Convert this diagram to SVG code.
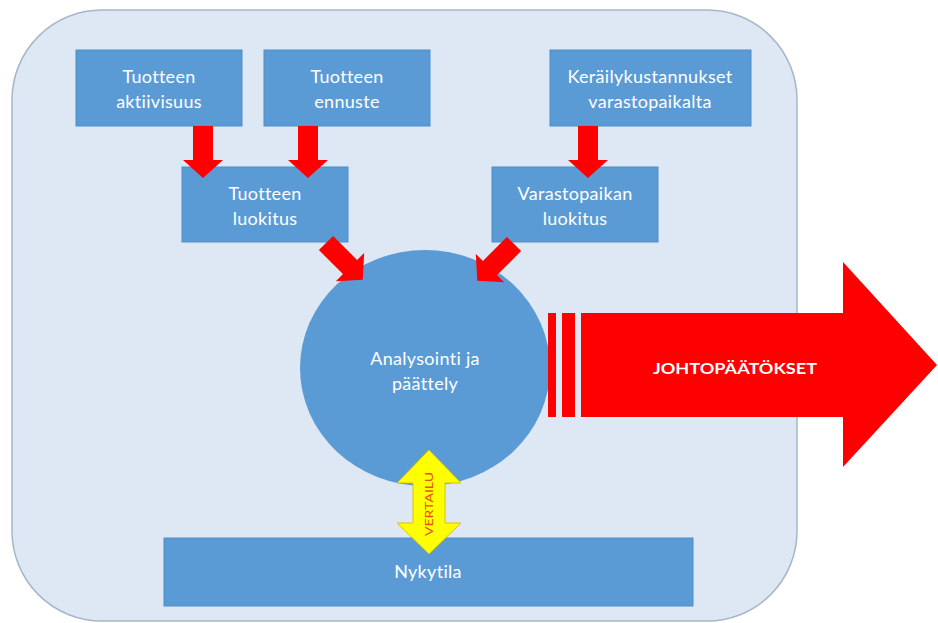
<svg xmlns="http://www.w3.org/2000/svg" xmlns:xlink="http://www.w3.org/1999/xlink" width="938" height="623" viewBox="0 0 938 623">
  <style>
    .panel { fill: #dde8f4; stroke: #a7b6c9; stroke-width: 1.5; }
    .box { fill: #5b9bd5; stroke: #4f8ec8; stroke-width: 1; }
    .lbl { font-family: Lato, "Open Sans", "Liberation Sans", sans-serif; font-size: 18px; letter-spacing: 0.3px; fill: #ffffff; text-anchor: middle; }
    .red { fill: #ff0000; }
    .big { font-family: Lato, "Liberation Sans", sans-serif; font-size: 15px; font-weight: bold; fill: #ffffff; text-anchor: middle; }
    .cmp { fill: #ffff00; stroke: #d8c400; stroke-width: 1; }
    .cmplbl { font-family: Lato, "Liberation Sans", sans-serif; font-size: 12px; fill: #e0530a; text-anchor: middle; }
  </style>
  <defs>
    <!-- small block arrow pointing along +x, tail at origin -->
    <path id="blk" d="M0,-10 H34 V-20 L52,0 L34,20 V10 H0 Z"/>
  </defs>

  <!-- background panel -->
  <rect class="panel" x="12" y="10" width="785" height="611" rx="90" ry="90"/>

  <g id="aktiivisuus">
    <rect class="box" x="76" y="50" width="166" height="76"/>
    <text class="lbl" x="159" y="83">Tuotteen</text>
    <text class="lbl" x="159" y="108">aktiivisuus</text>
  </g>
  <g id="ennuste">
    <rect class="box" x="264" y="50" width="166" height="76"/>
    <text class="lbl" x="347" y="83">Tuotteen</text>
    <text class="lbl" x="347" y="108">ennuste</text>
  </g>
  <g id="kerailykustannukset">
    <rect class="box" x="550" y="50" width="201" height="76"/>
    <text class="lbl" x="650" y="83">Keräilykustannukset</text>
    <text class="lbl" x="650" y="108">varastopaikalta</text>
  </g>
  <g id="tuoteluokitus">
    <rect class="box" x="182" y="167" width="166" height="75"/>
    <text class="lbl" x="265" y="200">Tuotteen</text>
    <text class="lbl" x="265" y="225">luokitus</text>
  </g>
  <g id="paikkaluokitus">
    <rect class="box" x="492" y="167" width="166" height="75"/>
    <text class="lbl" x="575" y="200">Varastopaikan</text>
    <text class="lbl" x="575" y="225">luokitus</text>
  </g>
  <g id="analysointi">
    <ellipse fill="#5b9bd5" cx="425" cy="368" rx="125" ry="118"/>
    <text class="lbl" x="425" y="365">Analysointi ja</text>
    <text class="lbl" x="425" y="390">päättely</text>
  </g>
  <g id="nykytila">
    <rect class="box" x="164" y="538" width="529" height="68"/>
    <text class="lbl" x="428" y="578">Nykytila</text>
  </g>

  <g id="connectors">
    <use xlink:href="#blk" class="red" transform="translate(203,126) rotate(90)"/>
    <use xlink:href="#blk" class="red" transform="translate(308,126) rotate(90)"/>
    <use xlink:href="#blk" class="red" transform="translate(588,126) rotate(90)"/>
    <use xlink:href="#blk" class="red" transform="translate(326,243) rotate(45)"/>
    <use xlink:href="#blk" class="red" transform="translate(514,244) rotate(135)"/>

    <g id="vertailu">
      <path class="cmp" d="M429,450 L461,483 H445 V523 H461 L429,554 L397,523 H413 V483 H397 Z"/>
      <text class="cmplbl" transform="translate(433,504) rotate(-90)" textLength="64" lengthAdjust="spacingAndGlyphs">VERTAILU</text>
    </g>
  </g>

  <g id="johtopaatokset">
    <rect class="red" x="548" y="313" width="8" height="104"/>
    <rect class="red" x="562" y="313" width="13" height="104"/>
    <path class="red" d="M581,313 H843 V262 L937,365 L843,467 V417 H581 Z"/>
    <text class="big" x="735" y="374" textLength="164" lengthAdjust="spacingAndGlyphs">JOHTOPÄÄTÖKSET</text>
  </g>
</svg>
